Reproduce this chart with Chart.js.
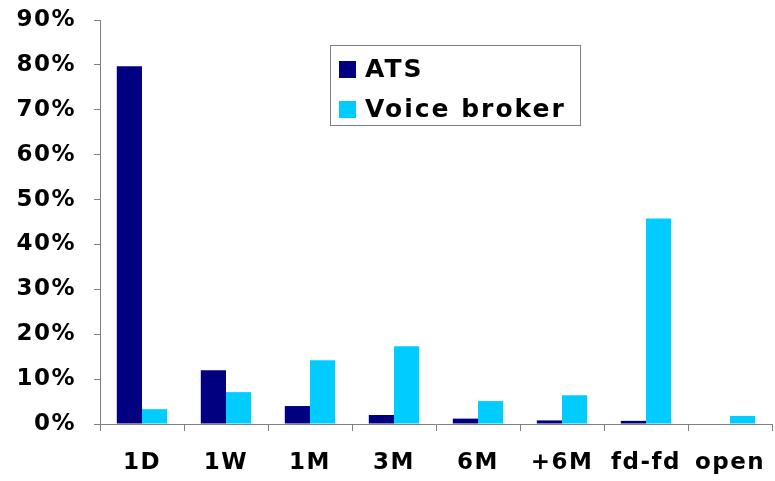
<!DOCTYPE html>
<html>
<head>
<meta charset="utf-8">
<script src="https://cdn.jsdelivr.net/npm/chart.js@4/dist/chart.umd.min.js"></script>
<style>
  body { margin: 0; background: #fff; }
  #wrap { width: 775px; height: 481px; }
</style>
</head>
<body>
<div id="wrap"><canvas id="barChart" width="775" height="481"></canvas></div>
<script>
const categories = ["1D", "1W", "1M", "3M", "6M", "+6M", "fd-fd", "open"];
const atsValues = [79.7, 12.0, 4.0, 2.0, 1.2, 0.8, 0.7, 0];
const voiceValues = [3.3, 7.1, 14.2, 17.3, 5.1, 6.4, 45.8, 1.8];
const seriesNames = ["ATS", "Voice broker"];
const seriesColors = ["#000080", "#00CCFF"];

const FONT = "'DejaVu Sans', Verdana, sans-serif";

// wider, Verdana-like spacing on every label
const spacing = {
  id: "spacing",
  beforeLayout(chart) { chart.ctx.letterSpacing = "1.5px"; },
  beforeDraw(chart) { chart.ctx.letterSpacing = "1.5px"; }
};

// legend drawn as a box inside the plot, like the original
const boxLegend = {
  id: "boxLegend",
  afterDraw(chart) {
    const ctx = chart.ctx;
    ctx.save();
    ctx.strokeStyle = "#808080";
    ctx.lineWidth = 1;
    ctx.strokeRect(330.5, 45.5, 250, 80);
    ctx.font = "bold 25px " + FONT;
    ctx.letterSpacing = "2px";
    ctx.textBaseline = "middle";
    chart.data.datasets.forEach((ds, i) => {
      const y = 69 + i * 40;
      ctx.fillStyle = ds.backgroundColor;
      ctx.fillRect(339, y - 8, 17, 17);
      ctx.fillStyle = "#000";
      ctx.fillText(ds.label, 365, y + 1);
    });
    ctx.restore();
  }
};

const config = {
  type: "bar",
  data: {
    labels: categories,
    datasets: [
      { label: seriesNames[0], data: atsValues, backgroundColor: seriesColors[0] },
      { label: seriesNames[1], data: voiceValues, backgroundColor: seriesColors[1] }
    ]
  },
  options: {
    responsive: false,
    animation: false,
    layout: { padding: { top: 20, right: 3, left: 0, bottom: 0 } },
    plugins: { legend: { display: false }, tooltip: { enabled: false } },
    datasets: { bar: { categoryPercentage: 0.6, barPercentage: 1.0 } },
    scales: {
      x: {
        grid: { display: true, offset: true, drawOnChartArea: false, drawTicks: true, tickLength: 7, color: "#808080" },
        border: { display: true, color: "#808080" },
        ticks: { color: "#000", font: { family: FONT, size: 23, weight: "bold" }, padding: 18, maxRotation: 0 },
        afterFit: (s) => { s.height = 57; s.paddingLeft = 0; s.paddingRight = 0; }
      },
      y: {
        min: 0,
        max: 90,
        grid: { display: true, drawOnChartArea: false, drawTicks: true, tickLength: 6, color: "#808080" },
        border: { display: true, color: "#808080" },
        ticks: {
          stepSize: 10,
          color: "#000",
          font: { family: FONT, size: 23, weight: "bold" },
          padding: 18,
          callback: (v) => v + "%"
        },
        afterFit: (s) => { s.width = 100; s.paddingTop = 0; s.paddingBottom = 0; }
      }
    }
  },
  plugins: [spacing, boxLegend]
};

new Chart(document.getElementById("barChart"), config);
</script>
</body>
</html>
